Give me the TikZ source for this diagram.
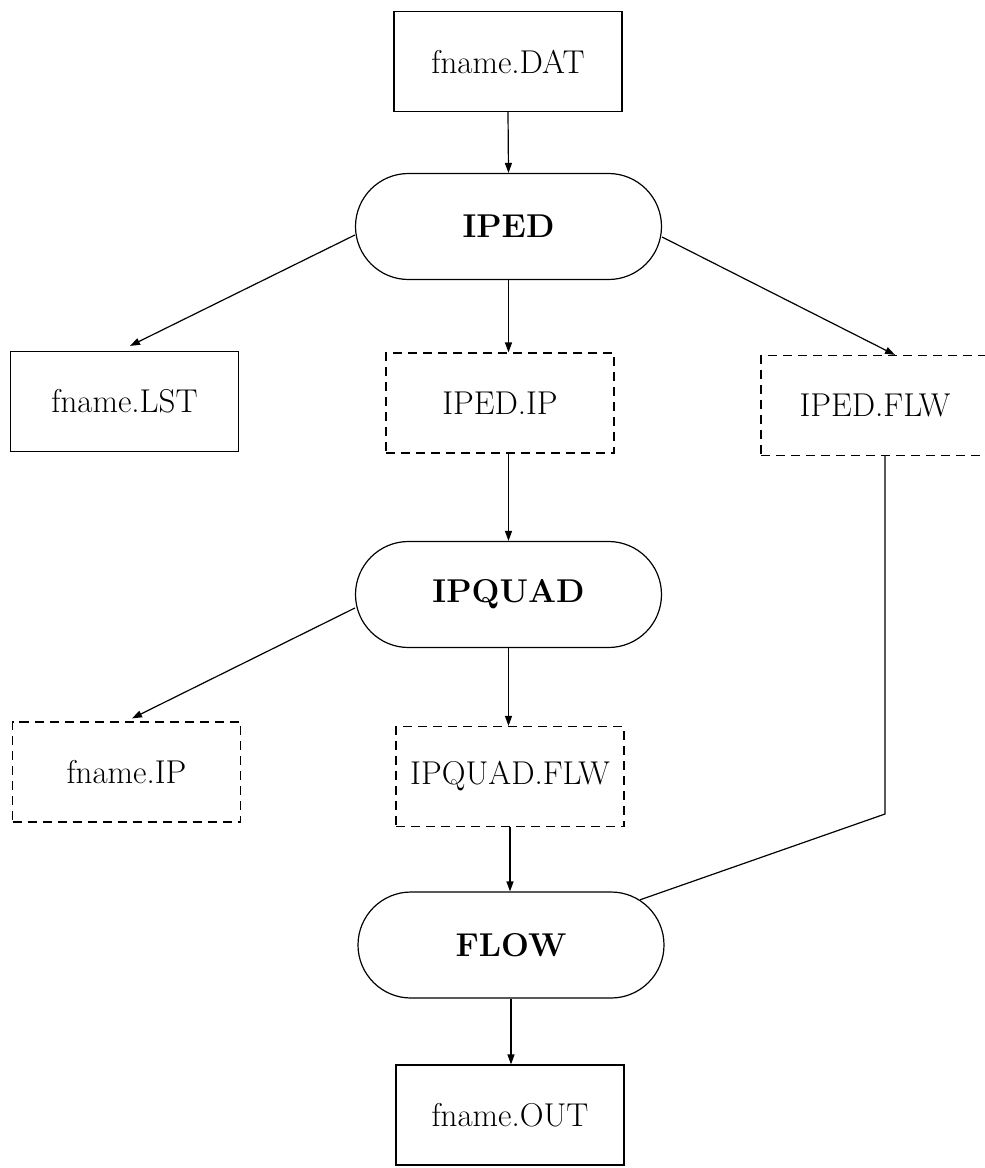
\documentclass[tikz,border=0pt]{standalone}
\usepackage{tikz}
\usetikzlibrary{shapes.misc,arrows.meta,calc}

\begin{document}
\begin{tikzpicture}[x=0.5pt, y=-0.5pt, line width=0.6pt,
    file/.style={draw, rectangle, inner sep=0pt, minimum width=114pt, minimum height=50pt,
      font=\fontsize{16.5}{20}\selectfont},
    tmpfile/.style={file, dash pattern=on 4.5pt off 3pt},
    prog/.style={draw, rounded rectangle, inner sep=0pt, minimum width=153pt, minimum height=53pt,
      font=\fontsize{16.5}{20}\selectfont\bfseries},
    flow/.style={-{Triangle[length=5pt,width=3.5pt]}}]

  \useasboundingbox (0,0) rectangle (985,1168);

  % files and programs
  \node[file]    (DAT)       at (508,61.5)   {fname.DAT};
  \node[prog]    (IPED)      at (508.5,226.5) {IPED};
  \node[file]    (LST)       at (124.5,401.5) {fname.LST};
  \node[tmpfile] (IPEDIP)    at (500,403)    {IPED.IP};
  \node[tmpfile] (IPEDFLW)   at (875,405.5)  {IPED.FLW};
  \node[prog]    (IPQUAD)    at (508.5,594.5) {IPQUAD};
  \node[tmpfile] (FIP)       at (126.5,772)  {fname.IP};
  \node[tmpfile] (IPQUADFLW) at (510,776.5)  {IPQUAD.FLW};
  \node[prog]    (FLOW)      at (511,945)    {FLOW};
  \node[file]    (OUT)       at (510,1115)   {fname.OUT};

  \coordinate (bend) at (885,814);

  \draw[flow] (DAT.south) -- (IPED.north); %% DAT->IPED
  \draw[flow] ($(IPED.west)+(0,8.5)$) -- ($(LST.north)+(5.5,-5)$); %% IPED->LST
  \draw[flow] (IPED.south) -- (IPED.south |- IPEDIP.north); %% IPED->IPED.IP
  \draw[flow] ($(IPED.east)+(0,10.5)$) -- ($(IPEDFLW.north)+(20,0)$); %% IPED->IPED.FLW

  \draw[flow] (IPQUAD.north |- IPEDIP.south) -- (IPQUAD.north); %% IPED.IP->IPQUAD
  \draw[flow] ($(IPQUAD.west)+(0,13.5)$) -- ($(FIP.north)+(5.5,-3)$); %% IPQUAD->fname.IP
  \draw[flow] (IPQUAD.south) -- (IPQUAD.south |- IPQUADFLW.north); %% IPQUAD->IPQUAD.FLW

  \draw[flow] (IPQUADFLW.south) -- (IPQUADFLW.south |- FLOW.north); %% IPQUAD.FLW->FLOW
  \draw ($(IPEDFLW.south)+(10,0)$) -- (bend) -- (FLOW); %% IPED.FLW->FLOW
  \draw[flow] (FLOW.south) -- (FLOW.south |- OUT.north); %% FLOW->OUT
\end{tikzpicture}
\end{document}
